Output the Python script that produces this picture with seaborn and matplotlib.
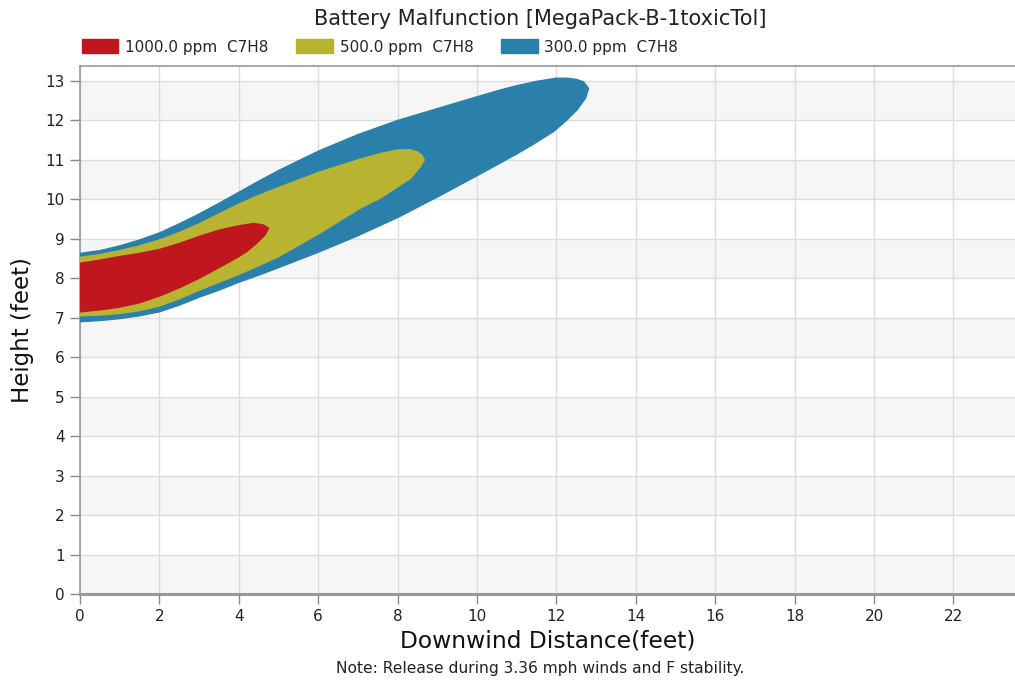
import numpy as np
import seaborn as sns
import matplotlib.pyplot as plt
from matplotlib.patches import Patch

sns.set_theme(style="whitegrid")
plt.rcParams['font.family'] = ['DejaVu Sans']

# plume outlines (downwind feet, height feet)
# upper edge goes left->right, lower edge comes back right->left
x_300_up = [0, 0.5, 1, 1.5, 2, 2.5, 3, 3.5, 4, 4.5, 5, 6, 7, 8, 9, 10, 10.58, 11, 11.5, 12, 12.26, 12.5, 12.68, 12.81]
y_300_up = [8.63, 8.7, 8.82, 8.97, 9.15, 9.38, 9.63, 9.9, 10.18, 10.46, 10.73, 11.22, 11.64, 12.0, 12.3, 12.6, 12.77, 12.88, 12.99, 13.07, 13.07, 13.04, 12.98, 12.81]
x_300_lo = [12.73, 12.52, 12.26, 11.93, 11.42, 11, 10, 9, 8, 7, 6, 5, 4.5, 4, 3.5, 3, 2.5, 2, 1.5, 1, 0.5, 0]
y_300_lo = [12.56, 12.27, 12.01, 11.72, 11.4, 11.15, 10.6, 10.06, 9.54, 9.08, 8.66, 8.27, 8.08, 7.9, 7.7, 7.52, 7.32, 7.15, 7.05, 6.98, 6.93, 6.90]

x_500_up = [0, 0.5, 1, 1.5, 2, 2.5, 3, 3.5, 4, 4.5, 5, 6, 7.06, 7.6, 8.0, 8.3, 8.5, 8.61, 8.67]
y_500_up = [8.53, 8.6, 8.7, 8.82, 8.97, 9.16, 9.38, 9.63, 9.88, 10.1, 10.3, 10.68, 11.02, 11.17, 11.25, 11.26, 11.2, 11.12, 11.0]
x_500_lo = [8.57, 8.32, 8.0, 7.56, 7.06, 6, 5, 4.5, 4, 3.5, 3, 2.5, 2, 1.5, 1, 0.5, 0]
y_500_lo = [10.83, 10.53, 10.32, 10.03, 9.78, 9.12, 8.55, 8.32, 8.1, 7.9, 7.7, 7.48, 7.3, 7.18, 7.11, 7.07, 7.05]

x_1000_up = [0, 0.5, 1, 1.5, 2, 2.5, 3, 3.5, 4, 4.37, 4.62, 4.75]
y_1000_up = [8.38, 8.46, 8.55, 8.63, 8.73, 8.88, 9.06, 9.22, 9.33, 9.39, 9.35, 9.27]
x_1000_lo = [4.66, 4.45, 4.2, 4.0, 3.5, 3, 2.5, 2, 1.5, 1, 0.5, 0]
y_1000_lo = [9.10, 8.89, 8.68, 8.55, 8.27, 8.0, 7.76, 7.55, 7.38, 7.27, 7.2, 7.15]

labels = ["1000.0 ppm  C7H8", "500.0 ppm  C7H8", "300.0 ppm  C7H8"]
colors = ["#C0171F", "#B8B432", "#2A80AA"]
x_ticks = list(range(0, 23, 2))
y_ticks = list(range(0, 14))

fig = plt.figure(figsize=(10.15, 6.82), dpi=100)
ax = fig.add_axes([80 / 1015, 1 - 594 / 682, 1 - 80 / 1015, (594 - 66) / 682])
ax.set_facecolor("white")

# alternating row bands
for y0 in y_ticks[::2]:
    ax.axhspan(y0, y0 + 1, color="#f6f6f6", zorder=0, lw=0)

plumes = [(x_300_up, y_300_up, x_300_lo, y_300_lo, colors[2]),
          (x_500_up, y_500_up, x_500_lo, y_500_lo, colors[1]),
          (x_1000_up, y_1000_up, x_1000_lo, y_1000_lo, colors[0])]
for xu, yu, xl, yl, c in plumes:
    ax.fill(xu + xl, yu + yl, facecolor=c, edgecolor=c, lw=1.0,
            joinstyle="round", zorder=3)

ax.set_xlim(0, 23.55)
ax.set_ylim(0, 13.38)
ax.set_xticks(x_ticks)
ax.set_yticks(y_ticks)
ax.grid(True, color="#dcdcdc", lw=1)
ax.set_axisbelow(True)
ax.tick_params(axis="both", which="both", length=7, color="#888888", width=1,
               labelsize=11, labelcolor="#222222", pad=4,
               bottom=True, left=True)
for side in ["left", "top"]:
    ax.spines[side].set_color("#999999")
    ax.spines[side].set_linewidth(1.2)
ax.spines["bottom"].set_color("#999999")
ax.spines["bottom"].set_linewidth(2.2)
ax.spines["right"].set_visible(False)

ax.set_xlabel("Downwind Distance(feet)", fontsize=16.8, color="#111111", labelpad=4)
ax.set_ylabel("Height (feet)", fontsize=16.5, color="#111111", labelpad=8)

fig.text(0.532, 1 - 19 / 682, "Battery Malfunction [MegaPack-B-1toxicTol]",
         ha="center", va="center", fontsize=15, color="#222222")
fig.text(0.532, 1 - 668 / 682, "Note: Release during 3.36 mph winds and F stability.",
         ha="center", va="center", fontsize=11.2, color="#222222")

handles = [Patch(facecolor=c, edgecolor=c) for c in colors]
fig.legend(handles, labels, ncol=3, loc="center left",
           bbox_to_anchor=(68 / 1015, 1 - 47 / 682), frameon=False,
           fontsize=11, handlelength=2.4, handleheight=1.0,
           columnspacing=1.8, handletextpad=0.45)

fig.savefig("out.png", dpi=100)
